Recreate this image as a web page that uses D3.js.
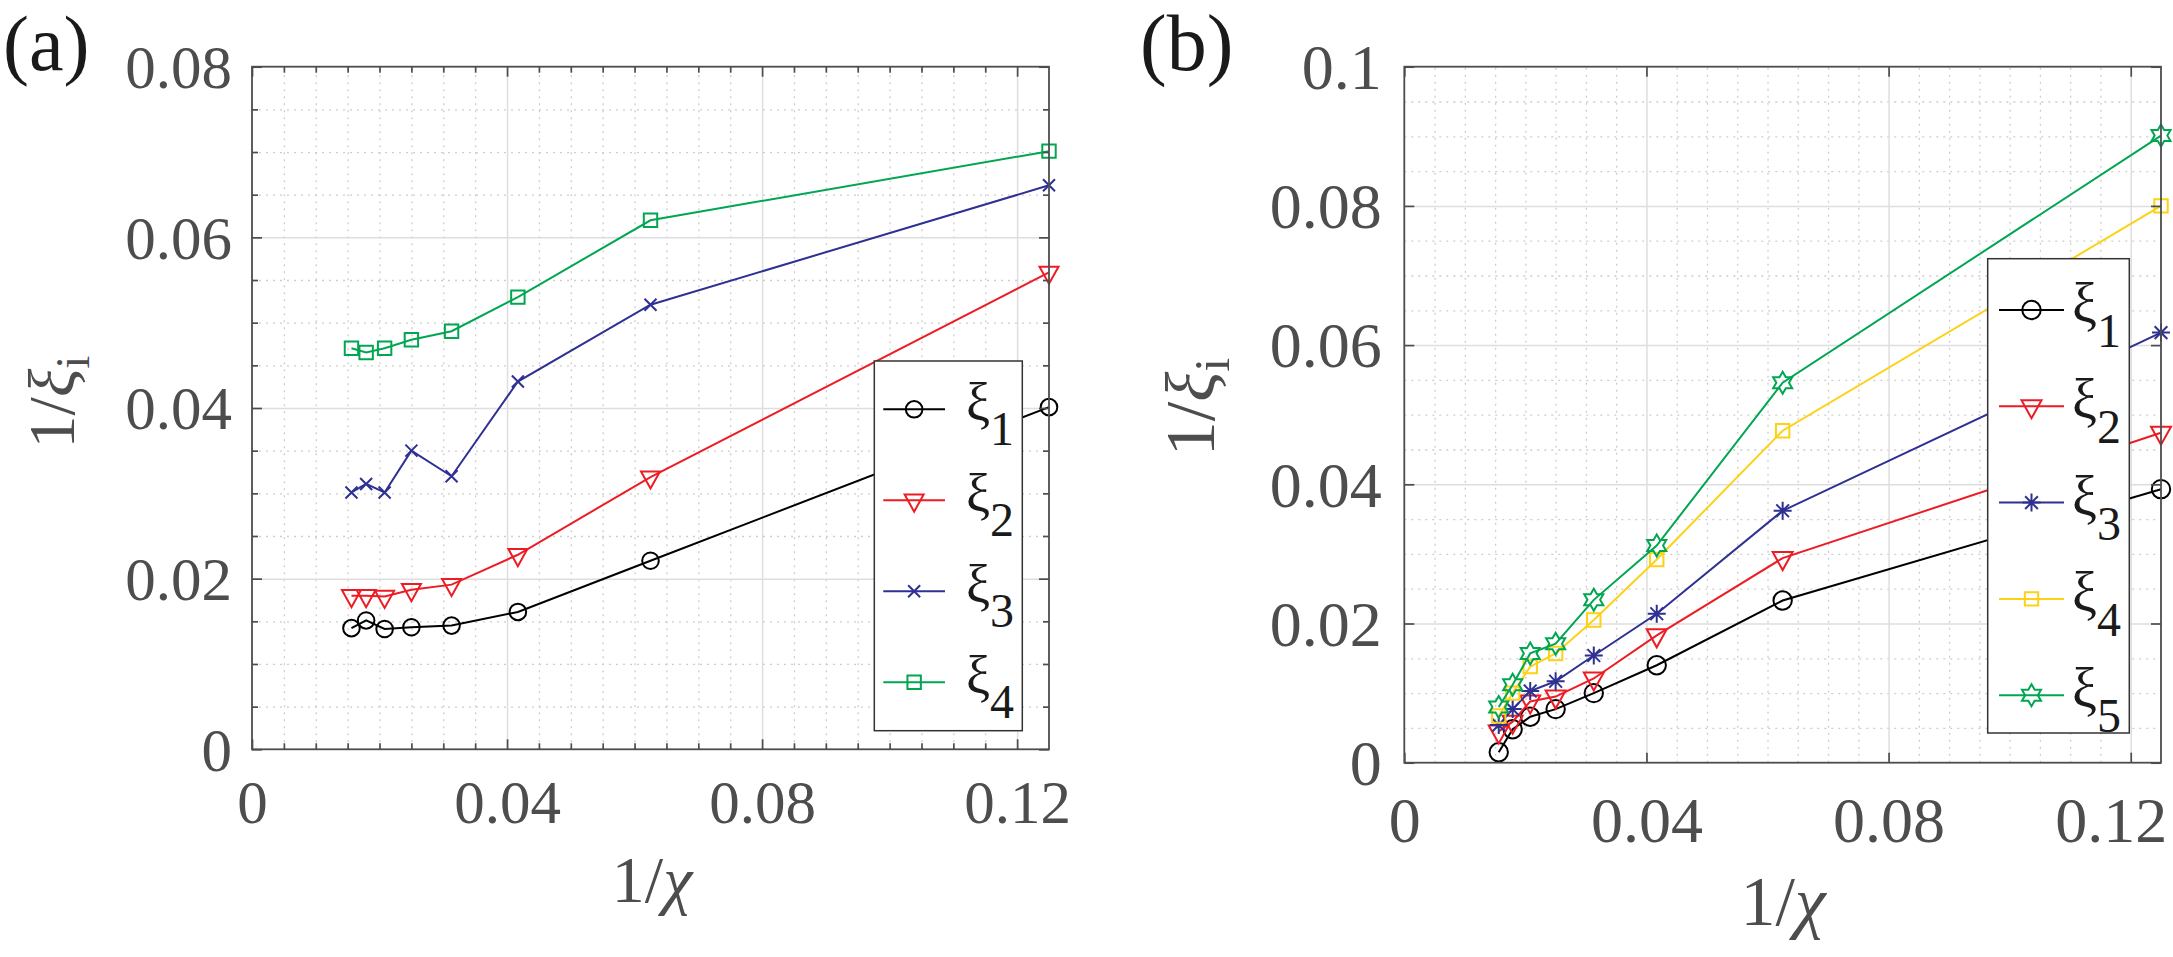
<!DOCTYPE html>
<html><head><meta charset="utf-8">
<script src="https://cdn.jsdelivr.net/npm/d3@7"></script>
<style>
body{margin:0;background:#fff}
svg{display:block}
text{font-family:"Liberation Serif","Times New Roman",serif}
</style>
</head><body>
<svg id="c" width="2173" height="957"></svg>
<script>
// ---------- data ----------
const xChi = [0.0156, 0.0179, 0.0208, 0.0250, 0.0313, 0.0417, 0.0625, 0.125];

const a_xi1 = [0.0142, 0.0151, 0.0141, 0.0143, 0.0145, 0.0161, 0.0221, 0.0401];
const a_xi2 = [0.0180, 0.0180, 0.0179, 0.0187, 0.0193, 0.0228, 0.0319, 0.0559];
const a_xi3 = [0.0301, 0.0311, 0.0301, 0.0350, 0.0320, 0.0431, 0.0521, 0.0661];
const a_xi4 = [0.0470, 0.0465, 0.0470, 0.0480, 0.0490, 0.0530, 0.0620, 0.0701];

const b_xi1 = [0.0015, 0.0048, 0.0066, 0.0077, 0.0100, 0.0140, 0.0233, 0.0393];
const b_xi2 = [0.0045, 0.0059, 0.0088, 0.0095, 0.0121, 0.0183, 0.0294, 0.0474];
const b_xi3 = [0.0054, 0.0077, 0.0103, 0.0117, 0.0154, 0.0214, 0.0362, 0.0618];
const b_xi4 = [0.0067, 0.0100, 0.0138, 0.0157, 0.0205, 0.0292, 0.0477, 0.0800];
const b_xi5 = [0.0080, 0.0112, 0.0157, 0.0171, 0.0234, 0.0312, 0.0546, 0.0901];

const xTicks = [0, 0.04, 0.08, 0.12];
const xTickLabels = ["0", "0.04", "0.08", "0.12"];
const aYTicks = [0, 0.02, 0.04, 0.06, 0.08];
const aYTickLabels = ["0", "0.02", "0.04", "0.06", "0.08"];
const bYTicks = [0, 0.02, 0.04, 0.06, 0.08, 0.1];
const bYTickLabels = ["0", "0.02", "0.04", "0.06", "0.08", "0.1"];
const subscripts = ["1", "2", "3", "4", "5"];

const COL = {k:"#000000", r:"#ed1c24", b:"#2e3192", g:"#00a651", y:"#fcd116"};

// ---------- marker paths ----------
function markerPath(type, s){
  switch(type){
    case "circle": return `M${-s},0A${s},${s} 0 1,0 ${s},0A${s},${s} 0 1,0 ${-s},0Z`;
    case "tri": return `M${-s},${-0.6*s}L${s},${-0.6*s}L0,${1.2*s}Z`;
    case "x": return `M${-s},${-s}L${s},${s}M${-s},${s}L${s},${-s}`;
    case "square": return `M${-s},${-s}H${s}V${s}H${-s}Z`;
    case "ast": {
      const d = s*0.7071;
      return `M0,${-s}V${s}M${-s},0H${s}M${-d},${-d}L${d},${d}M${-d},${d}L${d},${-d}`;
    }
    case "hex": {
      const r = s/Math.sqrt(3); let p = [];
      for(let i=0;i<12;i++){
        const ang = -Math.PI/2 + i*Math.PI/6; const rr = i%2===0 ? s : r;
        p.push([rr*Math.cos(ang), rr*Math.sin(ang)]);
      }
      return "M" + p.map(q=>q[0].toFixed(2)+","+q[1].toFixed(2)).join("L") + "Z";
    }
  }
}

const svg = d3.select("#c");

function styleGrid(g, color, width, dash){
  g.select(".domain").remove();
  g.selectAll("line").attr("stroke", color).attr("stroke-width", width).attr("stroke-dasharray", dash);
}

function panel(cfg){
  const x = d3.scaleLinear().domain([0, 0.125]).range([cfg.L, cfg.R]);
  const y = d3.scaleLinear().domain([0, cfg.ymax]).range([cfg.B, cfg.T]);
  const W = cfg.R - cfg.L, H = cfg.B - cfg.T;
  const isMajor = (v, arr) => arr.some(t => Math.abs(t - v) < 1e-9);
  const minorX = d3.range(0, 0.12501, 0.005).filter(v => !isMajor(v, xTicks) && v < 0.1249);
  const minorY = d3.range(0, cfg.ymax + 1e-9, 0.005).filter(v => !isMajor(v, cfg.yTicks) && v < cfg.ymax - 1e-9);
  const majorXGrid = xTicks.filter(v => v > 1e-9);
  const majorYGrid = cfg.yTicks.filter(v => v > 1e-9 && v < cfg.ymax - 1e-9);

  // minor grid (dotted)
  svg.append("g").attr("transform", `translate(0,${cfg.B})`)
    .call(d3.axisBottom(x).tickValues(minorX).tickSize(-H).tickFormat(""))
    .call(g => styleGrid(g, "#cdcdcd", 1.3, "2,5"));
  svg.append("g").attr("transform", `translate(${cfg.L},0)`)
    .call(d3.axisLeft(y).tickValues(minorY).tickSize(-W).tickFormat(""))
    .call(g => styleGrid(g, "#cdcdcd", 1.3, "2,5"));
  // major grid (solid)
  svg.append("g").attr("transform", `translate(0,${cfg.B})`)
    .call(d3.axisBottom(x).tickValues(majorXGrid).tickSize(-H).tickFormat(""))
    .call(g => styleGrid(g, "#dedede", 1.5, null));
  svg.append("g").attr("transform", `translate(${cfg.L},0)`)
    .call(d3.axisLeft(y).tickValues(majorYGrid).tickSize(-W).tickFormat(""))
    .call(g => styleGrid(g, "#dedede", 1.5, null));

  // series
  const line = d3.line().x((d, i) => x(xChi[i])).y(d => y(d));
  cfg.series.forEach(s => {
    svg.append("path").attr("d", line(s.values)).attr("fill", "none")
      .attr("stroke", s.color).attr("stroke-width", 2);
    svg.append("g").selectAll("path").data(s.values).join("path")
      .attr("transform", (d, i) => `translate(${x(xChi[i])},${y(d)})`)
      .attr("d", markerPath(s.marker, s.size))
      .attr("fill", "none").attr("stroke", s.color).attr("stroke-width", 2);
  });

  // ticks (inward) on all four sides
  const tickCol = "#4d4d4d";
  const mk = (axisFn, vals, size, tr) => {
    svg.append("g").attr("transform", tr)
      .call(axisFn.tickValues(vals).tickSize(-size).tickSizeOuter(0).tickFormat(""))
      .call(g => { g.select(".domain").remove(); g.selectAll("line").attr("stroke", tickCol).attr("stroke-width", 1.7); });
  };
  mk(d3.axisBottom(x), xTicks, 10, `translate(0,${cfg.B})`);
  mk(d3.axisTop(x), xTicks, 10, `translate(0,${cfg.T})`);
  mk(d3.axisLeft(y), cfg.yTicks, 10, `translate(${cfg.L},0)`);
  mk(d3.axisRight(y), cfg.yTicks, 10, `translate(${cfg.R},0)`);
  if (cfg.minorTicks){
    mk(d3.axisBottom(x), minorX, 6, `translate(0,${cfg.B})`);
    mk(d3.axisTop(x), minorX, 6, `translate(0,${cfg.T})`);
    mk(d3.axisLeft(y), minorY, 6, `translate(${cfg.L},0)`);
    mk(d3.axisRight(y), minorY, 6, `translate(${cfg.R},0)`);
  }
  // box
  svg.append("rect").attr("x", cfg.L).attr("y", cfg.T).attr("width", W).attr("height", H)
    .attr("fill", "none").attr("stroke", tickCol).attr("stroke-width", 1.8);

  // tick labels
  svg.append("g").attr("transform", `translate(0,${cfg.B})`)
    .call(d3.axisBottom(x).tickValues(xTicks).tickSize(0).tickFormat((d, i) => xTickLabels[i]))
    .call(g => {
      g.select(".domain").remove(); g.selectAll("line").remove();
      g.selectAll("text").attr("y", cfg.xLabOff).attr("dy", null)
        .attr("font-size", cfg.tickFs).attr("fill", tickCol)
        .attr("dx", (d, i) => i === xTicks.length - 1 ? cfg.lastXLabDx : 0);
    });
  svg.append("g").attr("transform", `translate(${cfg.L},0)`)
    .call(d3.axisLeft(y).tickValues(cfg.yTicks).tickSize(0).tickFormat((d, i) => cfg.yTickLabels[i]))
    .call(g => {
      g.select(".domain").remove(); g.selectAll("line").remove();
      g.selectAll("text").attr("x", -cfg.yLabGap).attr("dy", "0.34em")
        .attr("font-size", cfg.tickFs).attr("fill", tickCol);
    });

  // axis titles
  const xt = svg.append("text").attr("x", cfg.xTitleX).attr("y", cfg.xTitleY)
    .attr("text-anchor", "middle").attr("font-size", cfg.titleFs).attr("fill", tickCol);
  xt.append("tspan").text("1/");
  xt.append("tspan").text("χ").attr("font-style", "italic");

  const yt = svg.append("text").attr("transform", `translate(${cfg.yTitleX},${cfg.yTitleY}) rotate(-90)`)
    .attr("text-anchor", "middle").attr("font-size", cfg.titleFs).attr("fill", tickCol);
  yt.append("tspan").text("1/");
  yt.append("tspan").text("ξ").attr("font-style", "italic");
  yt.append("tspan").text("i").attr("font-size", cfg.titleFs * 0.72).attr("dy", cfg.titleFs * 0.22);

  // panel tag
  svg.append("text").attr("x", cfg.tagX).attr("y", 70).attr("font-size", cfg.tagFs)
    .attr("fill", "#1a1a1a").text(cfg.tag);

  // legend
  const lg = cfg.legend;
  svg.append("rect").attr("x", lg.x0).attr("y", lg.y0).attr("width", lg.x1 - lg.x0).attr("height", lg.y1 - lg.y0)
    .attr("fill", "#fff").attr("stroke", "#333").attr("stroke-width", 1.5);
  cfg.series.forEach((s, i) => {
    const yy = lg.first + i * lg.step;
    svg.append("line").attr("x1", lg.lx0).attr("x2", lg.lx1).attr("y1", yy).attr("y2", yy)
      .attr("stroke", s.color).attr("stroke-width", 2);
    svg.append("path").attr("transform", `translate(${(lg.lx0 + lg.lx1) / 2},${yy})`)
      .attr("d", markerPath(s.marker, s.size)).attr("fill", "none").attr("stroke", s.color).attr("stroke-width", 2);
    const t = svg.append("text").attr("x", lg.tx).attr("y", yy + lg.xiDy).attr("font-size", lg.fs).attr("fill", "#1a1a1a");
    t.append("tspan").text("ξ");
    t.append("tspan").text(subscripts[i]).attr("font-size", lg.subFs).attr("dy", lg.subDy);
  });
}

panel({
  L: 252, R: 1049, T: 66.7, B: 749.3, ymax: 0.08,
  yTicks: aYTicks, yTickLabels: aYTickLabels, minorTicks: true,
  tickFs: 61, xLabOff: 74, yLabGap: 20, lastXLabDx: 0,
  titleFs: 66, xTitleX: 652, xTitleY: 902, yTitleX: 74, yTitleY: 402,
  tag: "(a)", tagX: 3, tagFs: 78,
  series: [
    {values: a_xi1, color: COL.k, marker: "circle", size: 8.3},
    {values: a_xi2, color: COL.r, marker: "tri", size: 9.5},
    {values: a_xi3, color: COL.b, marker: "x", size: 6},
    {values: a_xi4, color: COL.g, marker: "square", size: 6.7}
  ],
  legend: {x0: 874.3, x1: 1022.3, y0: 361, y1: 730.7, first: 409.3, step: 91,
           lx0: 883.3, lx1: 945, tx: 966, xiDy: 12, fs: 54, subFs: 48, subDy: 24}
});

panel({
  L: 1404.3, R: 2161, T: 66.7, B: 762.7, ymax: 0.1,
  yTicks: bYTicks, yTickLabels: bYTickLabels, minorTicks: false,
  tickFs: 64, xLabOff: 79.5, yLabGap: 22.6, lastXLabDx: -20,
  titleFs: 70, xTitleX: 1783, xTitleY: 925, yTitleX: 1214, yTitleY: 407,
  tag: "(b)", tagX: 1140, tagFs: 80,
  series: [
    {values: b_xi1, color: COL.k, marker: "circle", size: 9.2},
    {values: b_xi2, color: COL.r, marker: "tri", size: 10},
    {values: b_xi3, color: COL.b, marker: "ast", size: 9},
    {values: b_xi4, color: COL.y, marker: "square", size: 6.7},
    {values: b_xi5, color: COL.g, marker: "hex", size: 11}
  ],
  legend: {x0: 1987.7, x1: 2129.3, y0: 258.7, y1: 733, first: 310, step: 96.3,
           lx0: 1999, lx1: 2064, tx: 2072, xiDy: 12, fs: 56, subFs: 48, subDy: 25}
});
</script>
</body></html>
